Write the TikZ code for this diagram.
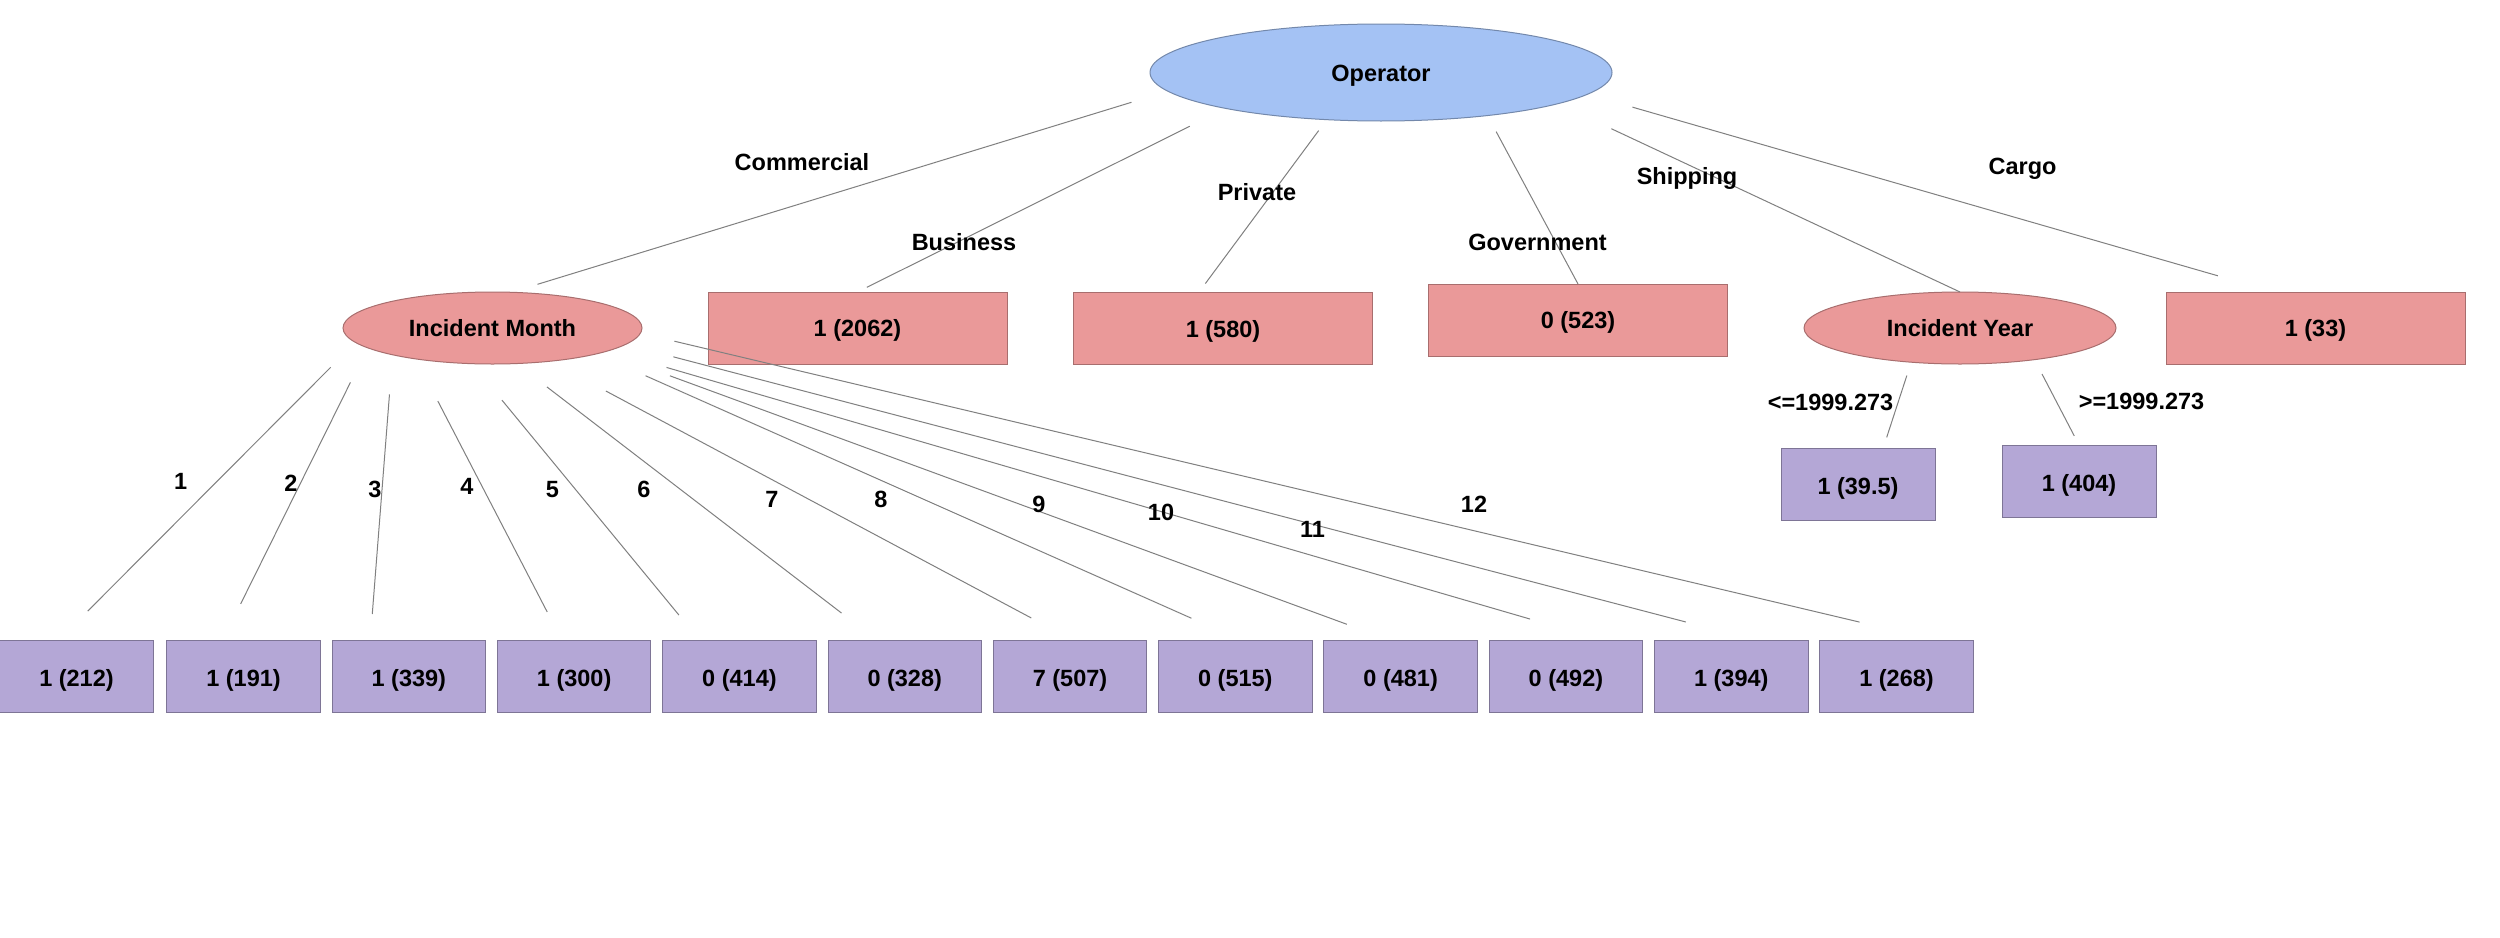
\documentclass[tikz,border=0pt]{standalone}
\usepackage{fontspec}
\setmainfont{Liberation Sans}
\usetikzlibrary{shapes.geometric}
\definecolor{opblue}{HTML}{A4C2F4}
\definecolor{nodered}{HTML}{EA9999}
\definecolor{leafpurple}{HTML}{B4A7D6}
\definecolor{edgegray}{HTML}{808080}
\begin{document}
\begin{tikzpicture}[x=0.5pt,y=-0.5pt,
  font=\fontsize{11.75}{14}\selectfont\bfseries,
  rootell/.style={ellipse, fill=opblue, draw=opblue!70!black, line width=0.5pt,
    inner sep=0pt, outer sep=0pt, minimum width=231pt, minimum height=48.5pt,
    text height=0.86em, text depth=0pt},
  splitell/.style={ellipse, fill=nodered, draw=nodered!72!black, line width=0.5pt,
    inner sep=0pt, outer sep=0pt, minimum height=36pt,
    text height=0.86em, text depth=0pt},
  redbox/.style={rectangle, fill=nodered, draw=nodered!72!black, line width=0.5pt,
    inner sep=0pt, outer sep=0pt, minimum width=149.5pt, minimum height=36pt,
    text height=0.86em, text depth=0pt},
  leafbox/.style={rectangle, fill=leafpurple, draw=leafpurple!70!black, line width=0.5pt,
    inner sep=0pt, outer sep=0pt, minimum width=76.75pt, minimum height=36pt,
    text height=1em, text depth=0pt},
  edge/.style={draw=edgegray, line width=0.5pt},
  lbl/.style={anchor=base, inner sep=0pt, outer sep=0pt}]

\fill[white] (0,0) rectangle (2500,937);
\useasboundingbox (0,0) rectangle (2500,937);

% root
\node[rootell] (op) at (1381,72.5) {Operator};

% level 1
\node[splitell, minimum width=149.5pt] (im) at (492.5,328) {Incident Month};
\node[redbox] (bz) at (857.5,328) {1 (2062)};
\node[redbox] (pv) at (1223,328.5) {1 (580)};
\node[redbox] (gv) at (1578,320) {0 (523)};
\node[splitell, minimum width=156pt] (iy) at (1960,328) {Incident Year};
\node[redbox] (cg) at (2315.5,328) {1 (33)};

% incident year leaves
\node[leafbox, minimum width=77pt] (y1) at (1858,484) {1 (39.5)};
\node[leafbox, minimum width=77pt] (y2) at (2079,481) {1 (404)};

% month leaves
\node[leafbox, minimum width=77pt] (b1) at (76.5,676) {1 (212)};
\node[leafbox] (b2)  at (243.55,676)  {1 (191)};
\node[leafbox] (b3)  at (408.85,676)  {1 (339)};
\node[leafbox] (b4)  at (574.15,676)  {1 (300)};
\node[leafbox] (b5)  at (739.45,676)  {0 (414)};
\node[leafbox] (b6)  at (904.75,676)  {0 (328)};
\node[leafbox] (b7)  at (1070.05,676) {7 (507)};
\node[leafbox] (b8)  at (1235.35,676) {0 (515)};
\node[leafbox] (b9)  at (1400.65,676) {0 (481)};
\node[leafbox] (b10) at (1565.95,676) {0 (492)};
\node[leafbox] (b11) at (1731.25,676) {1 (394)};
\node[leafbox] (b12) at (1896.55,676) {1 (268)};

% edges from root
\draw[edge, shorten <=19pt,   shorten >=13.65pt] (op.185) -- (im.62);
\draw[edge, shorten <=20pt,   shorten >=5.25pt]  (op.193) -- (bz.north);
\draw[edge, shorten <=6.8pt,  shorten >=5.6pt]   (op.221) -- (pv.124);
\draw[edge, shorten <=9.15pt]                    (op.338) -- (gv.north);
\draw[edge, shorten <=29.5pt]                    (op.350) -- (iy.north);
\draw[edge, shorten <=23.35pt, shorten >=29.25pt] (op.354) -- (cg.139);

% edges from Incident Year
\draw[edge, shorten <=7.05pt, shorten >=5.6pt]  (iy.215) -- (y1.55);
\draw[edge, shorten <=8.1pt,  shorten >=5.15pt] (iy.337) -- (y2.north);

% edges from Incident Month
\draw[edge, shorten <=17.6pt,  shorten >=20.4pt]  (im.186) -- (b1.116);
\draw[edge, shorten <=19.3pt,  shorten >=20.15pt] (im.189) -- (b2.120);
\draw[edge, shorten <=19.85pt, shorten >=13.05pt] (im.195) -- (b3.137);
\draw[edge, shorten <=23.8pt,  shorten >=15.8pt]  (im.202) -- (b4.109);
\draw[edge, shorten <=23.6pt,  shorten >=16.2pt]  (im.240) -- (b5.138);
\draw[edge, shorten <=19.2pt,  shorten >=22.15pt] (im.304) -- (b6.128);
\draw[edge, shorten <=31.65pt, shorten >=23.4pt]  (im.330) -- (b7.86);
\draw[edge, shorten <=26.9pt,  shorten >=26.8pt]  (im.346) -- (b8.82);
\draw[edge, shorten <=34.8pt,  shorten >=22.8pt]  (im.348) -- (b9.107);
\draw[edge, shorten <=30.05pt, shorten >=37.45pt] (im.349) -- (b10.45);
\draw[edge, shorten <=24.65pt, shorten >=35.55pt] (im.353) -- (b11.57);
\draw[edge, shorten <=17.45pt, shorten >=38.85pt] (im.358) -- (b12.43);

% edge labels
\node[lbl] (lcom) at (802,170)    {Commercial};
\node[lbl] (lbus) at (964,250)    {Business};
\node[lbl] (lpri) at (1257,200)   {Private};
\node[lbl] (lgov) at (1537.5,250) {Government};
\node[lbl] (lshi) at (1687,184.5) {Shipping};
\node[lbl] (lcar) at (2022.5,174) {Cargo};
\node[lbl] (lle)  at (1830.5,410.5) {<=1999.273};
\node[lbl] (lge)  at (2141.5,409.5) {>=1999.273};

\node[lbl] (l1)  at (180.6,489)   {1};
\node[lbl] (l2)  at (291,491.7)   {2};
\node[lbl] (l3)  at (375,497)     {3};
\node[lbl] (l4)  at (467,494)     {4};
\node[lbl] (l5)  at (552.5,497.7) {5};
\node[lbl] (l6)  at (644,497.7)   {6};
\node[lbl] (l7)  at (772,507)     {7};
\node[lbl] (l8)  at (881,507.3)   {8};
\node[lbl] (l9)  at (1039,512.3)  {9};
\node[lbl] (l10) at (1161,520)    {10};
\node[lbl] (l11) at (1312.5,537.3) {11};
\node[lbl] (l12) at (1474,512.3)  {12};
\end{tikzpicture}
\end{document}
